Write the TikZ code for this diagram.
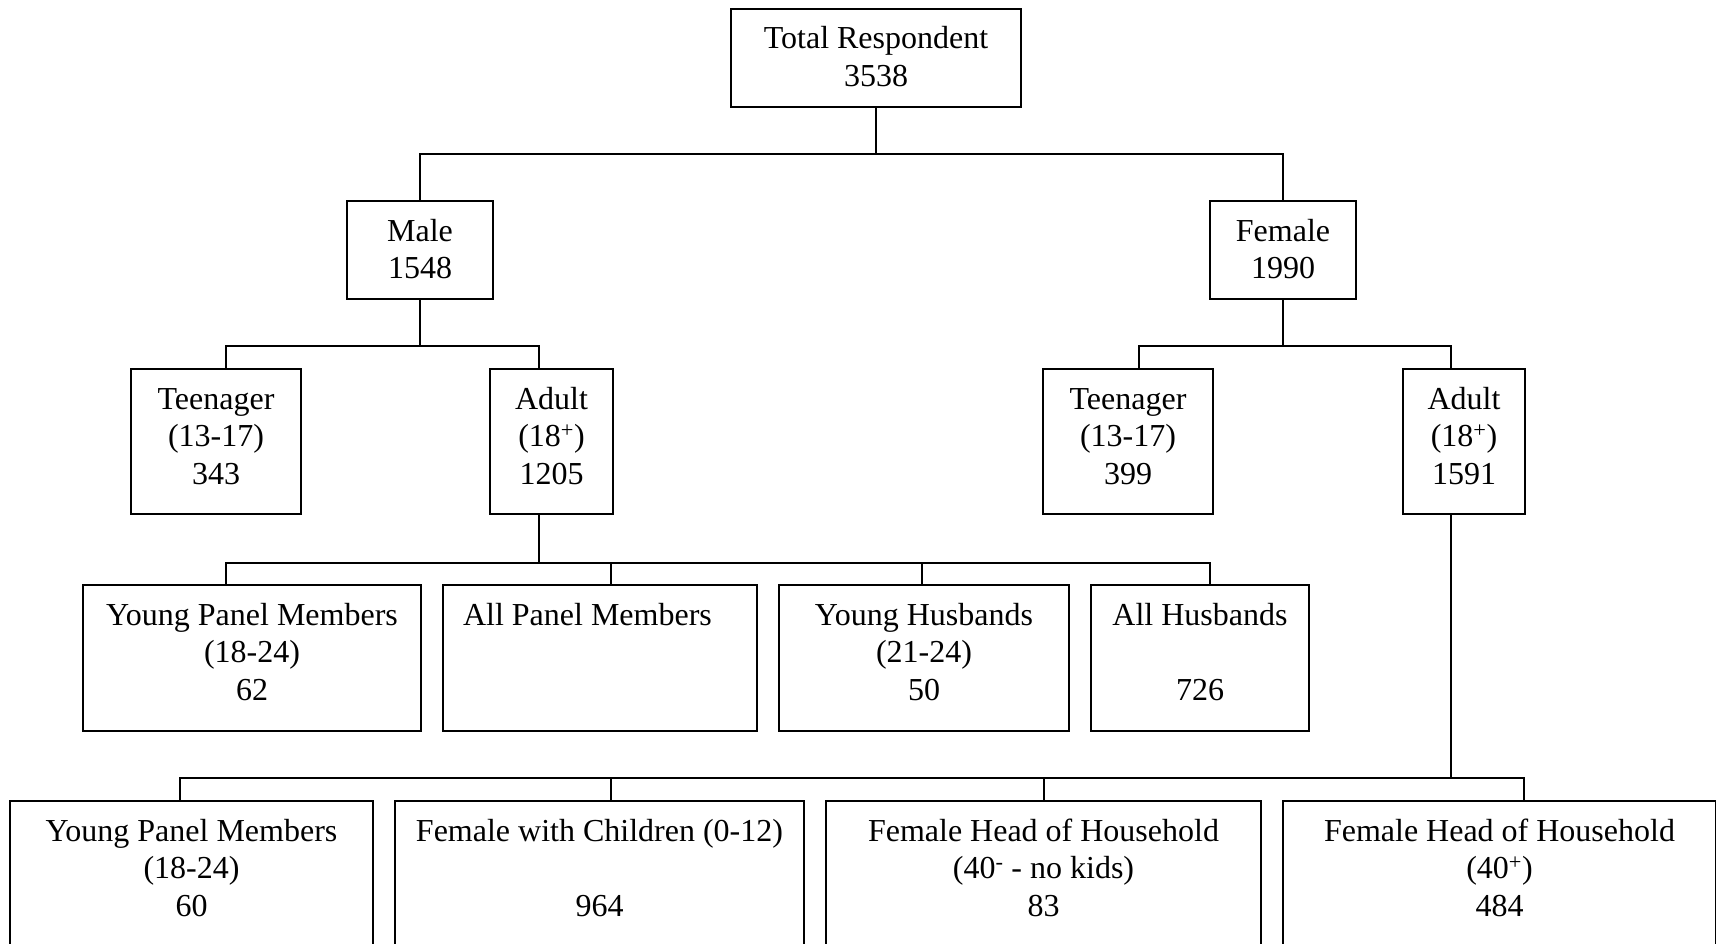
\documentclass[tikz,border=0pt]{standalone}
\usepackage{fontspec}
\setmainfont{Liberation Serif}
\usepackage{tikz}

% text of a box: fixed size, lines hung from the top
\newcommand{\boxtxt}[3]{\begin{minipage}[t][#2][t]{#1}\centering\rule{0pt}{40pt}#3\end{minipage}}

\tikzset{
  orgbox/.style={draw, line width=2pt, inner sep=0pt, anchor=north west},
  every node/.style={font=\fontsize{32}{37.5}\selectfont}
}

\begin{document}
\begin{tikzpicture}[x=1pt, y=-1pt, line width=2pt]
\useasboundingbox (0,0) rectangle (1716,944);
\clip (0,0) rectangle (1716,944);

% level 0 and 1
\node[orgbox] (total) at (730,8) {\boxtxt{290pt}{98pt}{Total Respondent\\3538}};
\node[orgbox] (male) at (346,200) {\boxtxt{146pt}{98pt}{Male\\1548}};
\node[orgbox] (female) at (1209,200) {\boxtxt{146pt}{98pt}{Female\\1990}};

% level 2
\node[orgbox] (teenm) at (130,368) {\boxtxt{170pt}{145pt}{Teenager\\(13-17)\\343}};
\node[orgbox] (adultm) at (489,368) {\boxtxt{123pt}{145pt}{Adult\\(18\textsuperscript{+})\\1205}};
\node[orgbox] (teenf) at (1042,368) {\boxtxt{170pt}{145pt}{Teenager\\(13-17)\\399}};
\node[orgbox] (adultf) at (1402,368) {\boxtxt{122pt}{145pt}{Adult\\(18\textsuperscript{+})\\1591}};

% male adults
\node[orgbox] (ypm) at (82,584) {\boxtxt{338pt}{146pt}{Young Panel Members\\(18-24)\\62}};
\node[orgbox] (apm) at (442,584) {\boxtxt{314pt}{146pt}{\raggedright\hspace*{20pt}All Panel Members}};
\node[orgbox] (yh) at (778,584) {\boxtxt{290pt}{146pt}{Young Husbands\\(21-24)\\50}};
\node[orgbox] (ah) at (1090,584) {\boxtxt{218pt}{146pt}{All Husbands\\~\\726}};

% female adults
\node[orgbox] (fypm) at (9,800) {\boxtxt{363pt}{170pt}{Young Panel Members\\(18-24)\\60}};
\node[orgbox] (fwc) at (394,800) {\boxtxt{409pt}{170pt}{Female with Children (0-12)\\~\\964}};
\node[orgbox] (fhh) at (825,800) {\boxtxt{435pt}{170pt}{Female Head of Household\\(40\textsuperscript{-} - no kids)\\83}};
\node[orgbox] (fho) at (1282,800) {\boxtxt{433pt}{170pt}{Female Head of Household\\(40\textsuperscript{+})\\484}};

% connectors
\coordinate (j0) at ([yshift=-46pt]total.south);
\draw (total.south) -- (j0);
\draw (male.north) |- (j0) -| (female.north);

\coordinate (j1) at ([yshift=-46pt]male.south);
\draw (male.south) -- (j1);
\draw ([xshift=10pt]teenm.north) |- (j1) -| ([xshift=-13pt]adultm.north);

\coordinate (j2) at ([yshift=-46pt]female.south);
\draw (female.south) -- (j2);
\draw ([xshift=11pt]teenf.north) |- (j2) -| ([xshift=-13pt]adultf.north);

\coordinate (j3) at ([xshift=-13pt,yshift=-48pt]adultm.south);
\draw ([xshift=-13pt]adultm.south) -- (j3);
\draw ([xshift=-26pt]ypm.north) |- (j3) -| ([xshift=10pt]ah.north);
\coordinate (t1) at ([xshift=11pt]apm.north);
\draw (t1) -- (t1 |- j3);
\coordinate (t2) at ([xshift=-2pt]yh.north);
\draw (t2) -- (t2 |- j3);

\coordinate (j4) at ([xshift=-13pt,yshift=-263pt]adultf.south);
\draw ([xshift=-13pt]adultf.south) -- (j4);
\draw ([xshift=-12pt]fypm.north) |- (j4) -| ([xshift=24pt]fho.north);
\coordinate (t3) at ([xshift=11pt]fwc.north);
\draw (t3) -- (t3 |- j4);
\draw (fhh.north) -- (fhh.north |- j4);
\end{tikzpicture}
\end{document}
